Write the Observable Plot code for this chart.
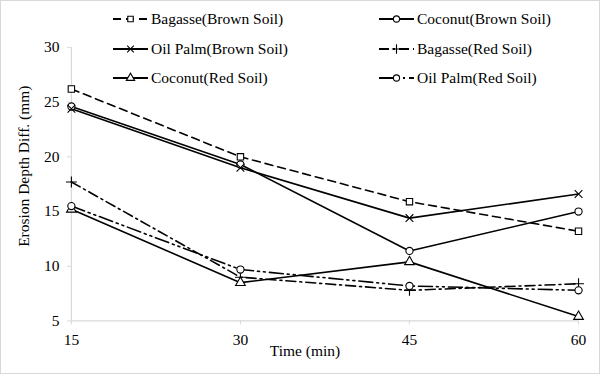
<!DOCTYPE html>
<html>
<head>
<meta charset="utf-8">
<script src="https://cdn.jsdelivr.net/npm/d3@7"></script>
<script src="https://cdn.jsdelivr.net/npm/@observablehq/plot@0.6"></script>
<style>
  html, body { margin: 0; padding: 0; background: #fff; }
  #wrap { position: relative; width: 600px; height: 374px; box-sizing: border-box; border: 1px solid #d9d9d9; overflow: hidden; font-family: 'Liberation Serif', serif; }
  #chart { position: absolute; left: -1px; top: -1px; }
  .leg { position: absolute; display: flex; align-items: center; font-family: 'Liberation Serif', serif; font-size: 15.5px; color: #000; white-space: nowrap; }
  .leg svg { display: block; margin-right: 2px; }
  #chart svg text { font-family: 'Liberation Serif', serif; }
</style>
</head>
<body>
<div id="wrap"><div id="chart"></div></div>
<script>
const times = [15, 30, 45, 60];
const seriesNames = [
  "Bagasse(Brown Soil)", "Coconut(Brown Soil)",
  "Oil Palm(Brown Soil)", "Bagasse(Red Soil)",
  "Coconut(Red Soil)", "Oil Palm(Red Soil)"
];
const bagasseBrown = [26.2, 20.0, 15.9, 13.2];
const coconutBrown = [24.6, 19.3, 11.4, 15.0];
const oilPalmBrown = [24.4, 19.0, 14.4, 16.6];
const bagasseRed   = [17.7, 9.0, 7.8, 8.4];
const coconutRed   = [15.2, 8.5, 10.4, 5.4];
const oilPalmRed   = [15.5, 9.7, 8.2, 7.8];
const yTicks = [5, 10, 15, 20, 25, 30];

const allValues = [bagasseBrown, coconutBrown, oilPalmBrown, bagasseRed, coconutRed, oilPalmRed];
const symbols = ["square", "circle", "times", "plus", "triangle", "circle"];
const dashes = ["8,5", null, null, "10,4,2,4", null, "14,4,2,4,2,4"];

const data = [];
seriesNames.forEach((name, i) => {
  times.forEach((t, j) => data.push({series: name, idx: i, time: t, value: allValues[i][j]}));
});

const marks = [
  Plot.ruleY([5], {stroke: "#d9d9d9", strokeWidth: 1.2}),
  Plot.ruleX([15], {stroke: "#d9d9d9", strokeWidth: 1.2}),
  Plot.axisY({ticks: yTicks, tickSize: 4, tickPadding: 8, stroke: "#d9d9d9", label: null, fontSize: 15.5}),
  Plot.axisX({ticks: times, tickSize: 4, tickPadding: 9, stroke: "#d9d9d9", label: null, fontSize: 15.5}),
  Plot.text(["Erosion Depth Diff. (mm)"], {frameAnchor: "left", textAnchor: "middle", dx: -47, dy: -18, rotate: -90, fontSize: 15.5}),
  Plot.text(["Time (min)"], {frameAnchor: "bottom", textAnchor: "middle", dx: -20, dy: 35, fontSize: 15.5})
];
seriesNames.forEach((name, i) => {
  const d = data.filter(r => r.idx === i);
  marks.push(Plot.line(d, {x: "time", y: "value", stroke: "#000", strokeWidth: 1.6, strokeDasharray: dashes[i]}));
});
seriesNames.forEach((name, i) => {
  const d = data.filter(r => r.idx === i);
  marks.push(Plot.dot(d, {x: "time", y: "value", symbol: () => symbols[i], r: 3.6, stroke: "#000", fill: "#fff", strokeWidth: 1.1}));
});

const chart = Plot.plot({
  width: 600, height: 374,
  marginLeft: 71, marginRight: 21, marginTop: 47, marginBottom: 53,
  x: {domain: [15, 60]},
  y: {domain: [5, 30]},
  style: {fontFamily: "'Liberation Serif', serif", fontSize: "15.5px", color: "#000", background: "transparent"},
  marks
});
document.getElementById("chart").appendChild(chart);

// legend (HTML overlay, two columns x three rows)
const wrap = document.getElementById("wrap");
const symMap = {square: d3.symbolSquare, circle: d3.symbolCircle, times: d3.symbolTimes, plus: d3.symbolPlus, triangle: d3.symbolTriangle};
const legCols = [111, 377];
const legRows = [18, 48, 77];
seriesNames.forEach((name, i) => {
  const col = i % 2, row = Math.floor(i / 2);
  const div = document.createElement("div");
  div.className = "leg";
  div.style.left = legCols[col] + "px";
  div.style.top = (legRows[row] - 10) + "px";
  div.style.height = "20px";
  const ns = "http://www.w3.org/2000/svg";
  const svg = document.createElementNS(ns, "svg");
  svg.setAttribute("width", 37); svg.setAttribute("height", 14);
  const ln = document.createElementNS(ns, "line");
  ln.setAttribute("x1", 1); ln.setAttribute("x2", 36); ln.setAttribute("y1", 7); ln.setAttribute("y2", 7);
  ln.setAttribute("stroke", "#000"); ln.setAttribute("stroke-width", 1.8);
  if (dashes[i]) ln.setAttribute("stroke-dasharray", dashes[i]);
  svg.appendChild(ln);
  const p = document.createElementNS(ns, "path");
  p.setAttribute("d", d3.symbol(symMap[symbols[i]], 30)());
  p.setAttribute("transform", "translate(18.5,7)");
  p.setAttribute("fill", "#fff"); p.setAttribute("stroke", "#000"); p.setAttribute("stroke-width", 1.1);
  svg.appendChild(p);
  div.appendChild(svg);
  const span = document.createElement("span");
  span.textContent = name;
  div.appendChild(span);
  wrap.appendChild(div);
});
</script>
</body>
</html>
